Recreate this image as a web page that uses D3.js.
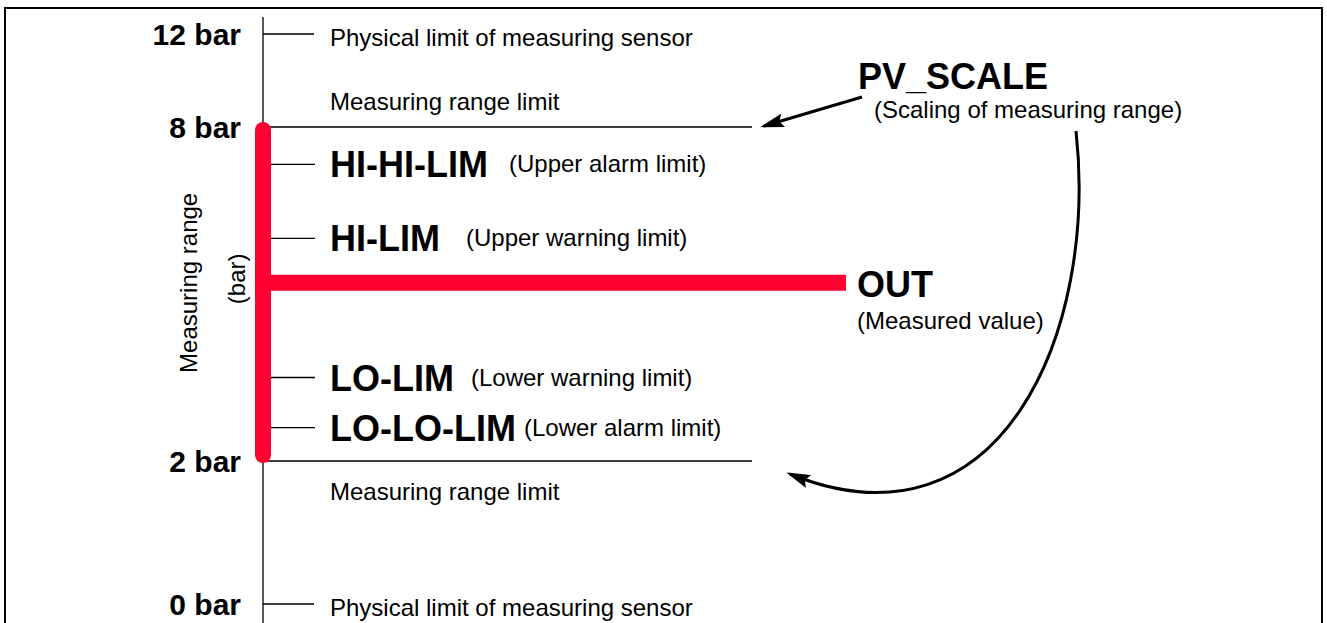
<!DOCTYPE html>
<html>
<head>
    <meta charset="utf-8">
    <script src="https://cdn.jsdelivr.net/npm/d3@7/dist/d3.min.js"></script>
    <style>
        body { margin: 0; background: #fff; }
        svg {
            display: block;
            font-family: "Liberation Sans", Arial, Helvetica, sans-serif;
        }
        line.thin { stroke: #000; stroke-width: 1.3px; }
        .bold { font-weight: bold; }
    </style>
</head>
<body>
<div id="chart"></div>
<script>
    // points on the pressure axis (bar)
    var scaleValues = [12, 8, 2, 0];
    var scaleLabels = ["12 bar", "8 bar", "2 bar", "0 bar"];
    var scaleNotes = ["Physical limit of measuring sensor", "Measuring range limit",
        "Measuring range limit", "Physical limit of measuring sensor"];

    // alarm / warning limits inside the measuring range
    var limitNames = ["HI-HI-LIM", "HI-LIM", "LO-LIM", "LO-LO-LIM"];
    var limitDescs = ["(Upper alarm limit)", "(Upper warning limit)", "(Lower warning limit)", "(Lower alarm limit)"];
    var limitValues = [7.33, 6.0, 3.5, 2.6];

    var rangeValues = [8, 2];
    var outValue = 5.2;

    var width = 1327,
        height = 623,
        red = "#ff0030";

    var svg = d3.select("#chart")
        .append("svg")
        .attr("width", width)
        .attr("height", height);

    // the diagram is not to scale: piecewise scale between the labelled points
    var y = d3.scaleLinear()
        .domain(scaleValues.slice().sort(d3.ascending))
        .range([604, 461, 127, 34]);

    var x0 = 263;

    svg.append("defs").append("marker")
        .attr("id", "head")
        .attr("markerUnits", "userSpaceOnUse")
        .attr("viewBox", "0 0 24 14")
        .attr("refX", 20)
        .attr("refY", 7)
        .attr("markerWidth", 24)
        .attr("markerHeight", 14)
        .attr("orient", "auto")
        .append("path")
        .attr("d", "M0,0 L24,7 L0,14 L4,7 z")
        .attr("fill", "#000");

    /* ------- FRAME -------*/
    svg.append("rect")
        .attr("x", 5).attr("y", 8)
        .attr("width", 1317).attr("height", 660)
        .attr("fill", "none")
        .attr("stroke", "#000")
        .attr("stroke-width", 2);

    /* ------- AXIS -------*/
    svg.append("line").attr("class", "thin")
        .attr("x1", x0).attr("x2", x0)
        .attr("y1", 17).attr("y2", height);

    var pts = svg.append("g").selectAll("g")
        .data(scaleValues)
        .enter().append("g");

    pts.append("line").attr("class", "thin")
        .attr("x1", x0)
        .attr("x2", function(d) { return rangeValues.indexOf(d) >= 0 ? 752 : 314; })
        .attr("y1", function(d) { return y(d); })
        .attr("y2", function(d) { return y(d); });

    pts.append("text")
        .attr("class", "bold")
        .attr("x", 241)
        .attr("y", function(d) { return y(d) + 11; })
        .attr("text-anchor", "end")
        .style("font-size", "30px")
        .text(function(d, i) { return scaleLabels[i]; });

    pts.append("text")
        .attr("x", 330)
        .attr("y", function(d) {
            if (d === 8) return y(d) - 17;
            if (d === 2) return y(d) + 39;
            return y(d) + 12;
        })
        .style("font-size", "24px")
        .text(function(d, i) { return scaleNotes[i]; });

    /* ------- MEASURING RANGE + OUT -------*/
    svg.append("line")
        .attr("x1", x0).attr("x2", x0)
        .attr("y1", y(rangeValues[0]) + 3)
        .attr("y2", y(rangeValues[1]) - 6)
        .attr("stroke", red)
        .attr("stroke-width", 16)
        .attr("stroke-linecap", "round");

    svg.append("line")
        .attr("x1", x0).attr("x2", 846)
        .attr("y1", y(outValue)).attr("y2", y(outValue))
        .attr("stroke", red)
        .attr("stroke-width", 16);

    svg.append("text").attr("class", "bold")
        .attr("x", 857).attr("y", y(outValue) + 14)
        .style("font-size", "36px")
        .text("OUT");
    svg.append("text")
        .attr("x", 857).attr("y", y(outValue) + 46)
        .style("font-size", "24px")
        .text("(Measured value)");

    svg.append("text")
        .attr("transform", "translate(197," + y(outValue) + ") rotate(-90)")
        .attr("text-anchor", "middle")
        .style("font-size", "24px")
        .text("Measuring range");
    svg.append("text")
        .attr("transform", "translate(245," + (y(outValue) - 4) + ") rotate(-90)")
        .attr("text-anchor", "middle")
        .style("font-size", "24px")
        .text("(bar)");

    /* ------- LIMITS -------*/
    var gaps = [21, 26, 17, 8];
    var lim = svg.append("g").selectAll("g")
        .data(limitValues)
        .enter().append("g");

    lim.append("line").attr("class", "thin")
        .attr("x1", 271).attr("x2", 315)
        .attr("y1", function(d) { return y(d); })
        .attr("y2", function(d) { return y(d); });

    lim.each(function(d, i) {
        var g = d3.select(this);
        var name = g.append("text").attr("class", "bold")
            .attr("x", 330).attr("y", y(d) + 13)
            .style("font-size", "36px")
            .text(limitNames[i]);
        var w = name.node().getComputedTextLength();
        g.append("text")
            .attr("x", 330 + w + gaps[i]).attr("y", y(d) + 8)
            .style("font-size", "24px")
            .text(limitDescs[i]);
    });

    /* ------- PV_SCALE -------*/
    svg.append("text").attr("class", "bold")
        .attr("x", 858).attr("y", 89)
        .style("font-size", "36px")
        .text("PV_SCALE");
    svg.append("text")
        .attr("x", 874).attr("y", 118)
        .style("font-size", "24px")
        .text("(Scaling of measuring range)");

    svg.append("line")
        .attr("x1", 862).attr("y1", 97)
        .attr("x2", 764).attr("y2", y(rangeValues[0]) - 1)
        .attr("stroke", "#000")
        .attr("stroke-width", 3)
        .attr("marker-end", "url(#head)");

    var p = d3.path();
    p.moveTo(1076, 131);
    p.bezierCurveTo(1098, 330, 1002, 560, 790, y(rangeValues[1]) + 13);
    svg.append("path")
        .attr("d", p.toString())
        .attr("fill", "none")
        .attr("stroke", "#000")
        .attr("stroke-width", 3)
        .attr("marker-end", "url(#head)");
</script>
</body>
</html>
